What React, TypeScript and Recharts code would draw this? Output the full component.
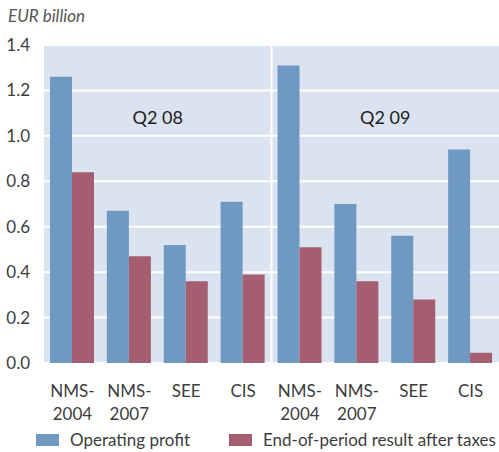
import React from 'react';
import {
  BarChart,
  Bar,
  XAxis,
  YAxis,
  CartesianGrid,
  ReferenceArea,
  Legend,
} from 'recharts';

const categoryIds = ['a1', 'a2', 'a3', 'a4', 'b1', 'b2', 'b3', 'b4'];
const categoryLabels = [
  ['NMS-', '2004'],
  ['NMS-', '2007'],
  ['SEE'],
  ['CIS'],
  ['NMS-', '2004'],
  ['NMS-', '2007'],
  ['SEE'],
  ['CIS'],
];
const operatingProfit = [1.26, 0.67, 0.52, 0.71, 1.31, 0.7, 0.56, 0.94];
const resultAfterTaxes = [0.84, 0.47, 0.36, 0.39, 0.51, 0.36, 0.28, 0.045];
const yTicks = [0, 0.2, 0.4, 0.6, 0.8, 1.0, 1.2, 1.4];
const periodLabels = ['Q2 08', 'Q2 09'];

const BLUE = '#6f99c3';
const RED = '#a55e70';
const BG = '#dae3ef';
const TEXT = '#3d3d3d';
const FONT = 'Lato, "Open Sans", sans-serif';

const data = categoryIds.map((id, i) => ({
  id,
  op: operatingProfit[i],
  res: resultAfterTaxes[i],
}));

function CategoryTick(props: any) {
  const { x, y, payload } = props;
  const lines = categoryLabels[payload.index] || [];
  return (
    <text
      x={x}
      y={y}
      textAnchor="middle"
      fill={TEXT}
      fontSize={17}
      fontFamily={FONT}
    >
      {lines.map((l, i) => (
        <tspan key={i} x={x} dy={i === 0 ? 26 : 23}>
          {l}
        </tspan>
      ))}
    </text>
  );
}

function LegendContent() {
  const items = [
    { name: 'Operating profit', color: BLUE, left: 36 },
    { name: 'End-of-period result after taxes', color: RED, left: 229 },
  ];
  return (
    <div style={{ position: 'relative', height: 20 }}>
      {items.map((it) => (
        <div
          key={it.name}
          style={{
            position: 'absolute',
            left: it.left,
            top: 0,
            display: 'flex',
            alignItems: 'center',
            whiteSpace: 'nowrap',
          }}
        >
          <span
            style={{
              display: 'inline-block',
              width: 23,
              height: 12,
              background: it.color,
              marginRight: 11,
            }}
          />
          <span style={{ fontSize: 17, color: TEXT, fontFamily: FONT }}>
            {it.name}
          </span>
        </div>
      ))}
    </div>
  );
}

export default function App() {
  return (
    <div style={{ position: 'absolute', left: 0, top: 0, width: 499, height: 452, background: '#fff' }}>
      <div
        style={{
          position: 'absolute',
          left: 8,
          top: 5,
          fontFamily: FONT,
          fontStyle: 'italic',
          fontSize: 17,
          color: '#555',
        }}
      >
        EUR billion
      </div>
      <BarChart
        width={499}
        height={452}
        data={data}
        margin={{ top: 45, right: 0, bottom: 39, left: 0 }}
        barCategoryGap={6}
        barGap={0}
      >
        <CartesianGrid
          fill={BG}
          stroke="#ffffff"
          strokeWidth={2}
          vertical={true}
          verticalCoordinatesGenerator={({ offset }: any) => [
            offset.left + offset.width / 2,
          ]}
        />
        <XAxis
          dataKey="id"
          axisLine={false}
          tickLine={false}
          tick={<CategoryTick />}
          interval={0}
        />
        <YAxis
          width={44}
          domain={[0, 1.4]}
          ticks={yTicks}
          axisLine={false}
          tickLine={false}
          tickSize={0}
          tickMargin={14}
          tickFormatter={(v: number) => v.toFixed(1)}
          tick={{ fill: TEXT, fontSize: 17, fontFamily: FONT }}
        />
        <ReferenceArea
          x1="a1"
          x2="a4"
          y1={1.0}
          y2={1.16}
          fill="none"
          fillOpacity={0}
          stroke="none"
          label={{ value: periodLabels[0], position: 'center', fill: '#222', fontSize: 18, fontFamily: FONT }}
        />
        <ReferenceArea
          x1="b1"
          x2="b4"
          y1={1.0}
          y2={1.16}
          fill="none"
          fillOpacity={0}
          stroke="none"
          label={{ value: periodLabels[1], position: 'center', fill: '#222', fontSize: 18, fontFamily: FONT }}
        />
        <Bar dataKey="op" name="Operating profit" fill={BLUE} isAnimationActive={false} />
        <Bar dataKey="res" name="End-of-period result after taxes" fill={RED} isAnimationActive={false} />
        <Legend
          content={<LegendContent />}
          verticalAlign="bottom"
          wrapperStyle={{ bottom: 3, left: 0, width: 499 }}
        />
      </BarChart>
    </div>
  );
}
